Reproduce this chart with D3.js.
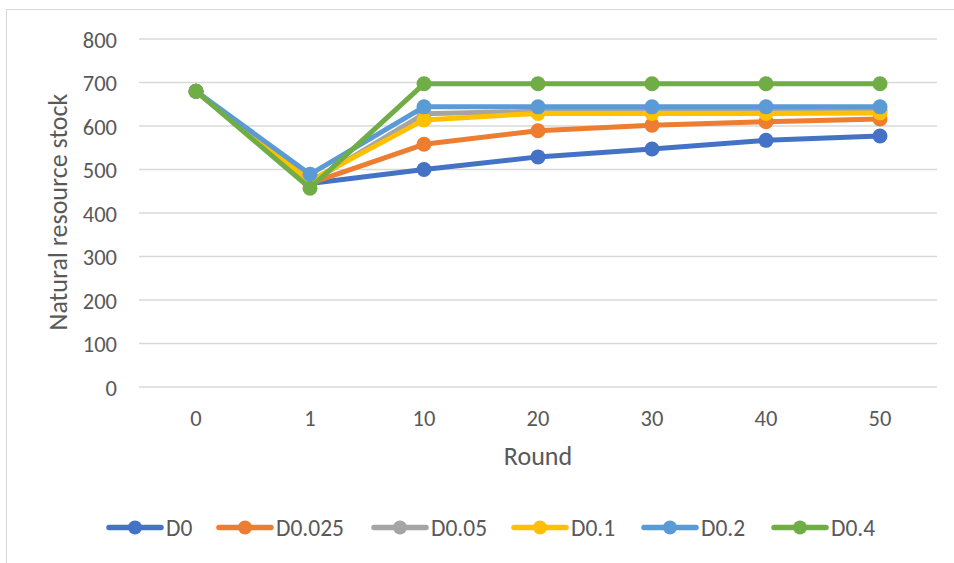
<!DOCTYPE html>
<html><head><meta charset="utf-8">
<script src="https://cdn.jsdelivr.net/npm/d3@7"></script>
<style>
body{margin:0;background:#fff;}
svg{display:block;font-family:Calibri,Carlito,Lato,"Open Sans",sans-serif;}
</style></head><body>
<svg id="c" width="954" height="563"></svg>
<script>
const rounds = ["0","1","10","20","30","40","50"];
const seriesNames = ["D0","D0.025","D0.05","D0.1","D0.2","D0.4"];
const colors = ["#4472C4","#ED7D31","#A5A5A5","#FFC000","#5B9BD5","#70AD47"];
const D0     = [680, 468, 500, 529, 547, 567, 577];
const D0_025 = [680, 468, 558, 589, 602, 610, 616];
const D0_05  = [680, 470, 628, 634, 636, 636, 636];
const D0_1   = [680, 474, 614, 629, 629, 629, 630];
const D0_2   = [680, 489, 644, 644, 644, 644, 644];
const D0_4   = [680, 457, 697, 697, 697, 697, 697];
const seriesValues = [D0, D0_025, D0_05, D0_1, D0_2, D0_4];
const yTicks = [0,100,200,300,400,500,600,700,800];

const FONT = "Calibri,Carlito,Lato,'Open Sans',sans-serif";
const svg = d3.select("#c");
svg.append("rect").attr("x",6.5).attr("y",9.5).attr("width",960).attr("height",570)
  .attr("fill","#fff").attr("stroke","#d9d9d9").attr("stroke-width",1);

const x = d3.scaleBand().domain(rounds).range([139,937]);
const y = d3.scaleLinear().domain([0,800]).range([387,39]);

// gridlines
svg.append("g").selectAll("line").data(yTicks).join("line")
  .attr("x1",139).attr("x2",937)
  .attr("y1",d=>y(d)).attr("y2",d=>y(d))
  .attr("stroke","#d9d9d9").attr("stroke-width",1.3);

// y axis labels
const yAxis = d3.axisLeft(y).tickValues(yTicks).tickSize(0).tickPadding(0);
const gy = svg.append("g").attr("transform","translate(117,0)").call(yAxis);
gy.select(".domain").remove();
gy.selectAll("text").attr("fill","#595959").attr("font-size","22.5px")
  .attr("font-family",FONT).attr("dy","0.36em");

// x axis labels
const xAxis = d3.axisBottom(x).tickSize(0).tickPadding(0);
const gx = svg.append("g").attr("transform","translate(0,426)").call(xAxis);
gx.select(".domain").remove();
gx.selectAll("text").attr("fill","#595959").attr("font-size","22.5px")
  .attr("font-family",FONT).attr("dy","0");

// axis titles
svg.append("text").attr("x",538).attr("y",465).attr("text-anchor","middle")
  .attr("fill","#595959").attr("font-size","26px").text("Round");
svg.append("text").attr("transform","translate(67,212) rotate(-90)").attr("text-anchor","middle")
  .attr("fill","#595959").attr("font-size","26px").text("Natural resource stock");

// lines
const line = d3.line().x((d,i)=>x(rounds[i])+x.bandwidth()/2).y(d=>y(d));
seriesValues.forEach((vals,si)=>{
  const g = svg.append("g");
  g.append("path").datum(vals).attr("d",line).attr("fill","none")
    .attr("stroke",colors[si]).attr("stroke-width",5).attr("stroke-linejoin","round").attr("stroke-linecap","round");
  g.selectAll("circle").data(vals).join("circle")
    .attr("cx",(d,i)=>x(rounds[i])+x.bandwidth()/2).attr("cy",d=>y(d)).attr("r",7.5)
    .attr("fill",colors[si]);
});

// legend
const legX = [107, 217, 372, 512, 642, 772];
const lg = svg.append("g");
seriesNames.forEach((n,i)=>{
  const lx = legX[i], ly = 527.5;
  lg.append("line").attr("x1",lx+2).attr("x2",lx+54).attr("y1",ly).attr("y2",ly)
    .attr("stroke",colors[i]).attr("stroke-width",5.5).attr("stroke-linecap","round");
  lg.append("circle").attr("cx",lx+28).attr("cy",ly).attr("r",7).attr("fill",colors[i]);
  lg.append("text").attr("x",lx+59).attr("y",ly+8).attr("fill","#595959").attr("font-size","23.5px").text(n);
});
</script>
</body></html>
